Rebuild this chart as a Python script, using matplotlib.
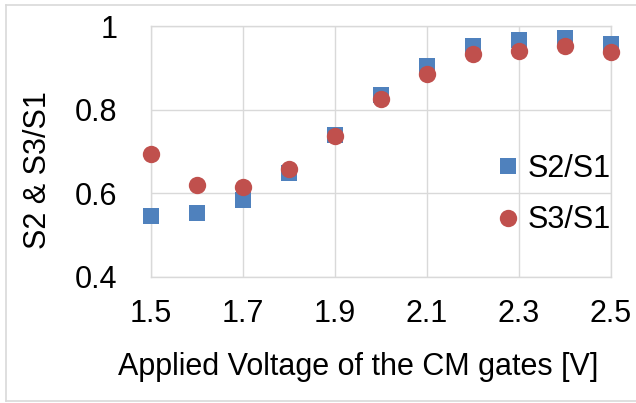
import matplotlib
matplotlib.use("Agg")
import matplotlib.pyplot as plt
from matplotlib.lines import Line2D

plt.rcParams['font.family'] = ['Liberation Sans', 'DejaVu Sans']

voltage = [1.5, 1.6, 1.7, 1.8, 1.9, 2.0, 2.1, 2.2, 2.3, 2.4, 2.5]
s2_s1 = [0.546, 0.554, 0.584, 0.648, 0.739, 0.836, 0.904, 0.953, 0.966, 0.971, 0.957]
s3_s1 = [0.695, 0.621, 0.615, 0.657, 0.738, 0.825, 0.885, 0.934, 0.941, 0.951, 0.939]
x_ticks = [1.5, 1.7, 1.9, 2.1, 2.3, 2.5]
y_ticks = [0.4, 0.6, 0.8, 1.0]
y_ticklabels = ["0.4", "0.6", "0.8", "1"]

W, H = 636, 403
FS = 22
fig = plt.figure(figsize=(W / 100, H / 100), dpi=100)
ax = fig.add_axes([151 / W, 1 - 277 / H, (611 - 151) / W, (277 - 26) / H])

blue = "#4F81BD"
red = "#C0504D"
ax.plot(voltage, s2_s1, linestyle="none", marker="s", markersize=12,
        color=blue, markeredgewidth=0, label="S2/S1", zorder=3, clip_on=False)
ax.plot(voltage, s3_s1, linestyle="none", marker="o", markersize=12.5,
        color=red, markeredgewidth=0, label="S3/S1", zorder=4, clip_on=False)

ax.set_xlim(1.5, 2.5)
ax.set_ylim(0.4, 1.0)
ax.set_xticks(x_ticks)
ax.set_xticklabels([f"{v:.1f}" for v in x_ticks])
ax.set_yticks(y_ticks)
ax.set_yticklabels(y_ticklabels)
ax.grid(True, color="#D9D9D9", linewidth=1.0)
ax.set_axisbelow(True)
for s in ax.spines.values():
    s.set_color("#D9D9D9")
    s.set_linewidth(1.0)
ax.tick_params(length=0, labelsize=FS, colors="black")
ax.tick_params(axis="x", pad=16)
ax.tick_params(axis="y", pad=24)

# axis titles
fig.text(118 / W, 1 - 375 / H, "Applied Voltage of the CM gates [V]",
         fontsize=FS, ha="left", va="baseline")
fig.text(38 / W, 1 - 170 / H, "S2 & S3/S1", fontsize=FS,
         rotation=90, ha="center", va="center")

handles = [
    Line2D([], [], linestyle="none", marker="s", markersize=12, color=blue, markeredgewidth=0),
    Line2D([], [], linestyle="none", marker="o", markersize=12.5, color=red, markeredgewidth=0),
]
ax.legend(handles, ["S2/S1", "S3/S1"], loc="center left",
          bbox_to_anchor=((496 - 151) / (611 - 151), (277 - 194.5) / (277 - 26)),
          frameon=False, fontsize=FS, handlelength=0.8, handletextpad=0.23,
          labelspacing=0.71, borderpad=0, borderaxespad=0)

# light frame around the figure
border = dict(color="#D9D9D9", linewidth=1.2, transform=fig.transFigure)
fig.add_artist(Line2D([6 / W, 1], [1 - 5 / H] * 2, **border))
fig.add_artist(Line2D([6 / W] * 2, [1 - 5 / H, 1 - 401 / H], **border))
fig.add_artist(Line2D([6 / W, 1], [1 - 401 / H] * 2, **border))

fig.savefig("out.png", dpi=100)
